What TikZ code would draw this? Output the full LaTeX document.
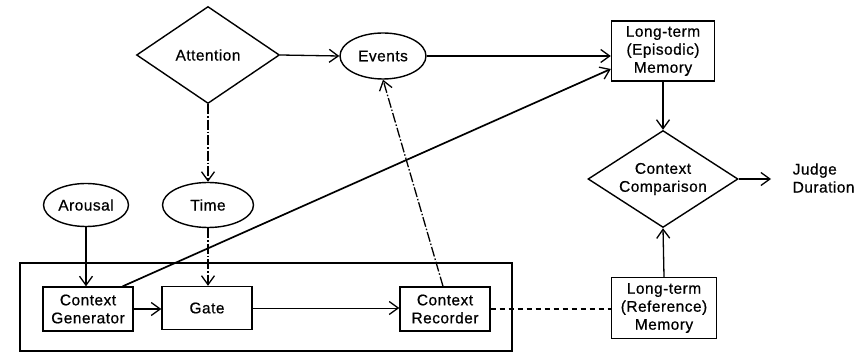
\documentclass[tikz,border=0pt]{standalone}
\usepackage{fontspec}
\setmainfont{Liberation Sans}[LetterSpace=3,FakeBold=0.6]
\usetikzlibrary{shapes.geometric,arrows.meta,calc}
\begin{document}
\begin{tikzpicture}[x=1pt,y=-1pt,
  every node/.style={font=\fontsize{15.5}{18}\selectfont, inner sep=0pt, line width=1.4pt},
  decision/.style={draw, diamond, align=center},
  blob/.style={draw, ellipse, align=center},
  unit/.style={draw, rectangle, align=center},
  link/.style={line width=1.3pt, -{Straight Barb[length=9pt,width=13pt,line width=1.3pt]}},
  dashdot/.style={dash pattern=on 10pt off 2pt on 1.5pt off 2pt},
  plaindash/.style={line width=1.2pt, dash pattern=on 5pt off 4pt}]
\useasboundingbox (0,0) rectangle (861,352);

% surrounding system box
\node[draw, minimum width=492pt, minimum height=88pt] (sys) at (266,307) {};

% upper row
\node[decision, minimum width=143pt, minimum height=97pt] (att) at (208,55) {Attention};
\node[blob, minimum width=86pt, minimum height=46pt] (ev) at (383,56) {Events};
\node[unit, minimum width=103pt, minimum height=60pt] (epi) at (663,51) {Long-term\\(Episodic)\\Memory};

% comparison and output
\node[decision, shape aspect=1.55, minimum width=150pt, minimum height=97pt] (cc) at (663,179) {Context\\Comparison};
\node[align=left, anchor=west] (judge) at (792,178) {Judge\\Duration};
\coordinate (out) at (771,179);

% inputs
\node[blob, minimum width=85pt, minimum height=43pt] (aro) at (86,205) {Arousal};
\node[blob, minimum width=91pt, minimum height=45pt] (tim) at (208,205) {Time};

% inner units
\node[unit, minimum width=90pt, minimum height=44pt] (gen) at (88,309) {Context\\Generator};
\node[unit, minimum width=90pt, minimum height=43pt] (gate) at (207,308) {Gate};
\node[unit, minimum width=90pt, minimum height=44pt] (rec) at (445,309) {Context\\Recorder};
\node[unit, minimum width=105pt, minimum height=61pt] (ref) at (664,308) {Long-term\\(Reference)\\Memory};

% connectors
\draw[link] (att.east) -- (ev.west);
\draw[link] (ev.east) -- (ev.east -| epi.west);
\draw[link, dashdot] (att.south) -- (tim.north);
\draw[link, dashdot] (tim.south) -- (tim.south |- gate.north);
\draw[link] (aro.south) -- (aro.south |- gen.north);
\draw[link] (gen.east) -- (gen.east -| gate.west);
\draw[link, line width=1pt] (gate.east) -- (gate.east -| rec.west);
\draw[link, line width=1.7pt] ($(gen.north east)+(-11,0)$) -- ($(epi.west)+(0,18)$);
\draw[link, dashdot] ($(rec.north)+(-2,0)$) -- (ev.south);
\draw[plaindash] (rec.east) -- (rec.east -| ref.west);
\draw[link] (epi.south) -- (cc.north);
\draw[link] (ref.north) -- (cc.south);
\draw[link] (cc.east) -- (out);
\end{tikzpicture}
\end{document}
